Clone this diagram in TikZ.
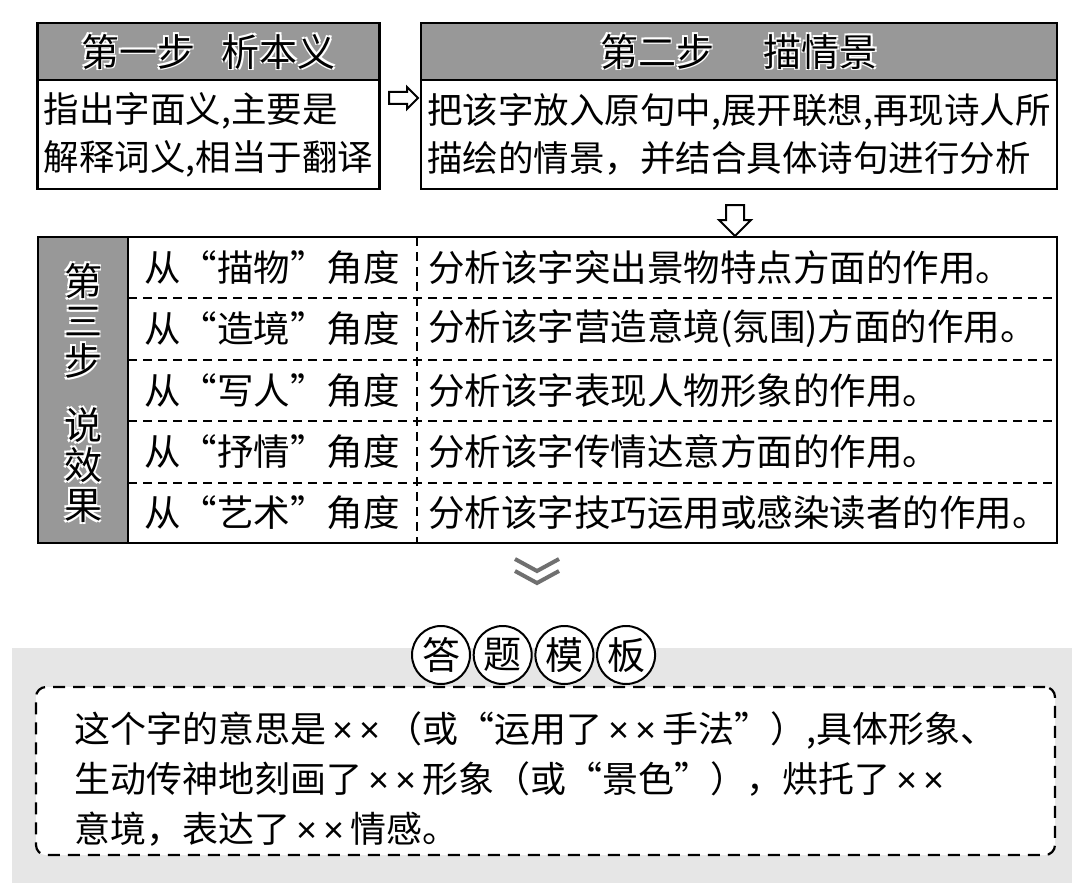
\documentclass[tikz,border=0pt]{standalone}
\usepackage{fontspec}
\setmainfont{Noto Sans CJK SC}
\newfontfamily\latinfont{Liberation Sans}
\usetikzlibrary{shapes.arrows}
\definecolor{hdgray}{RGB}{152,152,152}
\definecolor{bggray}{RGB}{230,230,230}
\definecolor{chevgray}{RGB}{112,112,112}
\newcommand\halo[1]{{\color{white}%
  \rlap{\kern1.6pt\raisebox{1.6pt}{#1}}\rlap{\kern-1.6pt\raisebox{1.6pt}{#1}}%
  \rlap{\kern1.6pt\raisebox{-1.6pt}{#1}}\rlap{\kern-1.6pt\raisebox{-1.6pt}{#1}}}#1}
\newcommand\xx{{\latinfont\,×\,×\,}}

\begin{document}
\begin{tikzpicture}[x=1pt, y=-1pt]
    \tikzstyle{frame} = [draw, line width=2.5pt, inner sep=0pt, outer sep=0pt];
    \tikzstyle{head} = [frame, fill=hdgray, font=\fontsize{38}{40}\selectfont];
    \tikzstyle{body} = [frame, fill=white, align=left, font=\fontsize{35.5}{48}\selectfont];
    \tikzstyle{cell} = [anchor=west, inner sep=0pt, font=\fontsize{36.5}{40}\selectfont];
    \tikzstyle{sep} = [line width=1.8pt, dash pattern=on 9pt off 6pt];
    \tikzstyle{blockarrow} = [single arrow, draw, fill=white, line width=2pt, single arrow head indent=0pt];
    \tikzstyle{circ} = [circle, draw, fill=white, line width=2pt, minimum size=58pt, inner sep=0pt, font=\fontsize{38}{40}\selectfont];
    \tikzstyle{chev} = [draw=chevgray, line width=4pt];
    \useasboundingbox (0,0) rectangle (1080,883);
    % step one and step two
    \node[head, minimum width=342pt, minimum height=57pt] (h1) at (208.5,51.5) {\halo{第一步\hspace{0.7em}析本义}};
    \node[body, minimum width=342pt, minimum height=109pt] (b1) at (208.5,134.5) {指出字面义,主要是\\解释词义,相当于翻译};
    \node[head, minimum width=636pt, minimum height=57pt] (h2) at (739,51.5) {\halo{第二步\hspace{1.3em}描情景}};
    \node[body, minimum width=636pt, minimum height=109pt] (b2) at (739,134.5) {把该字放入原句中,展开联想,再现诗人所\\描绘的情景，并结合具体诗句进行分析};
    \node[blockarrow, minimum height=29pt, inner sep=5pt, single arrow head extend=5pt] (a1) at (400.5,98) {};
    \node[blockarrow, minimum height=31pt, inner sep=8pt, single arrow head extend=7pt, shape border rotate=270] (a2) at (735,216) {};
    % step three
    \fill[hdgray] (38,237) rectangle (128,543);
    \draw[line width=2.5pt] (128,237) -- (128,543);
    \draw[sep] (128,298) -- (1057,298);
    \draw[sep] (128,360) -- (1057,360);
    \draw[sep] (128,421) -- (1057,421);
    \draw[sep] (128,483) -- (1057,483);
    \draw[sep] (417,237) -- (417,543);
    \node[frame, minimum width=1019pt, minimum height=306pt] (tab) at (547.5,390) {};
    \node[align=center, font=\fontsize{38}{40}\selectfont] (side) at (83,393) {\halo{第}\\\halo{三}\\\halo{步}\\[24pt]\halo{说}\\\halo{效}\\\halo{果}};
    \node[cell] (l1) at (144,267.5) {从“描物”角度};
    \node[cell] (l2) at (144,329) {从“造境”角度};
    \node[cell] (l3) at (144,390.5) {从“写人”角度};
    \node[cell] (l4) at (144,452) {从“抒情”角度};
    \node[cell] (l5) at (144,513) {从“艺术”角度};
    \node[cell] (r1) at (428,267.5) {分析该字突出景物特点方面的作用。};
    \node[cell] (r2) at (428,329) {分析该字营造意境(氛围)方面的作用。};
    \node[cell] (r3) at (428,390.5) {分析该字表现人物形象的作用。};
    \node[cell] (r4) at (428,452) {分析该字传情达意方面的作用。};
    \node[cell] (r5) at (428,513) {分析该字技巧运用或感染读者的作用。};
    \draw[chev] (515,559) -- (537,571) -- (559,559);
    \draw[chev] (515,571) -- (537,583) -- (559,571);
    % answer template
    \fill[bggray] (12,648) rectangle (1072,883);
    \foreach \c [count=\i] in {答,题,模,板}
        \node[circ] (c\i) at ({379.3+61.7*\i},655) {\c};
    \node[draw, fill=white, line width=2.2pt, dash pattern=on 12pt off 8pt, rounded corners=10pt, minimum width=1019pt, minimum height=168pt, inner sep=0pt] (tplbox) at (545.5,771) {};
    \node[anchor=west, align=left, inner sep=0pt, font=\fontsize{36}{50}\selectfont] (tpl) at (74,779) {这个字的意思是\xx（或“运用了\xx 手法”）,具体形象、\\生动传神地刻画了\xx 形象（或“景色”），烘托了\xx\\意境，表达了\xx 情感。};
\end{tikzpicture}
\end{document}
